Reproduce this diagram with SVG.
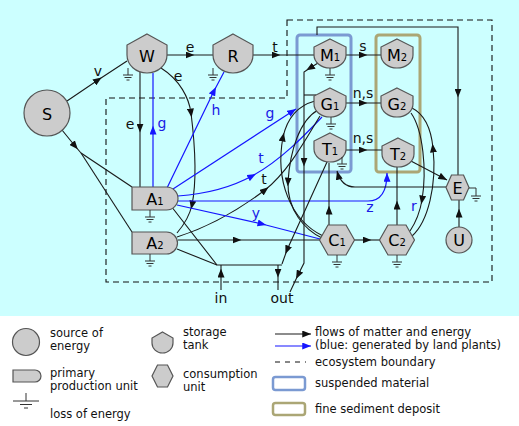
<svg xmlns="http://www.w3.org/2000/svg" width="519" height="426" viewBox="0 0 519 426">
<style>
.bg{fill:#ccffff}
.nd{fill:#cccccc;stroke:#555;stroke-width:1.2}
.ln{fill:none;stroke:#1a1a1a;stroke-width:1.1}
.bl{fill:none;stroke:#1515ff;stroke-width:1.2}
.gd{fill:none;stroke:#333;stroke-width:1}
.nl{font-family:"DejaVu Sans",Verdana,sans-serif;font-size:16px;fill:#000;text-anchor:middle}
.sub{font-size:10px}
.cl{font-family:"DejaVu Sans",Verdana,sans-serif;font-size:14px;fill:#111;text-anchor:middle}
.cb{fill:#1a1ae6}
.lg{font-family:"DejaVu Sans",Verdana,sans-serif;font-size:11.5px;fill:#111}
</style>
<defs>
<marker id="a" viewBox="0 0 10 8" refX="5" refY="4" markerWidth="9" markerHeight="7" orient="auto" markerUnits="userSpaceOnUse"><path d="M0,0 L10,4 L0,8 Z" fill="#111"/></marker>
<marker id="b" viewBox="0 0 10 8" refX="5" refY="4" markerWidth="9" markerHeight="7" orient="auto" markerUnits="userSpaceOnUse"><path d="M0,0 L10,4 L0,8 Z" fill="#1515ff"/></marker>
<marker id="ae" viewBox="0 0 10 8" refX="10" refY="4" markerWidth="9" markerHeight="7" orient="auto" markerUnits="userSpaceOnUse"><path d="M0,0 L10,4 L0,8 Z" fill="#111"/></marker>
<marker id="be" viewBox="0 0 10 8" refX="10" refY="4" markerWidth="9" markerHeight="7" orient="auto" markerUnits="userSpaceOnUse"><path d="M0,0 L10,4 L0,8 Z" fill="#1515ff"/></marker>
<g id="gnd" class="gd"><path d="M0,0 V7 M-5,7 H5 M-3.5,9.5 H3.5 M-1.5,12 H1.5"/></g>
</defs>

<rect class="bg" x="0" y="0" width="519" height="316"/>
<rect x="0" y="316" width="519" height="110" fill="#ffffff"/>

<g id="boundary">
<path d="M287,20 H492 V282 H106 V98 H287 Z" fill="none" stroke="#111" stroke-width="1.1" stroke-dasharray="6,4"/>
</g>

<g id="box-suspended"><rect x="297" y="35" width="54" height="137" rx="3" fill="none" stroke="#7b9ad2" stroke-width="3"/></g>
<g id="box-sediment"><rect x="376" y="35" width="44" height="137" rx="3" fill="none" stroke="#aba675" stroke-width="3"/></g>

<g id="connectors">
<path class="ln" d="M67,101 L98,80 L127,61" marker-mid="url(#a)"/>
<text class="cl" x="98" y="76">v</text>
<path class="ln" d="M62,130 L75,146 L81,153" marker-mid="url(#a)"/>
<path class="ln" d="M81,153 L132,187"/>
<path class="ln" d="M81,153 L132,232"/>
<path class="ln" d="M167,55 L190,55 L213,55" marker-mid="url(#a)"/>
<text class="cl" x="190" y="52">e</text>
<path class="ln" d="M253,55 L276,55 L314,55" marker-mid="url(#a)"/>
<text class="cl" x="275" y="52">t</text>
<path class="ln" d="M346,55 L363,55 L381,55" marker-mid="url(#a)"/>
<text class="cl" x="363" y="51">s</text>
<path class="ln" d="M346,103 L363,103 L381,103" marker-mid="url(#a)"/>
<text class="cl" x="363" y="98">n,s</text>
<path class="ln" d="M346,150 L363,150 L383,150" marker-mid="url(#a)"/>
<text class="cl" x="363" y="143">n,s</text>
<path class="ln" d="M140,72 L140,128 L140,187" marker-mid="url(#a)"/>
<text class="cl" x="130" y="129">e</text>
<path class="bl" d="M153,187 L153,130 L153,73" marker-mid="url(#b)"/>
<text class="cl cb" x="162" y="128">g</text>
<path class="ln" d="M161,68 C180,80 189,98 191,113 C195,145 197,180 192,205 C189,218 183,226 177,233" marker-mid="url(#a)"/>
<text class="cl" x="178" y="81">e</text>
<path class="bl" d="M167,188 L214,91 L224,72" marker-mid="url(#b)"/>
<text class="cl cb" x="216" y="115">h</text>
<path class="bl" d="M173,189 L296,109" marker-end="url(#be)"/>
<text class="cl cb" x="270" y="118">g</text>
<path class="bl" d="M178,196 C205,194 232,187 252,176 C280,161 305,135 322,117" marker-mid="url(#b)"/>
<text class="cl cb" x="261" y="163">t</text>
<path class="ln" d="M177,237 C215,225 245,205 265,190 C290,170 308,135 320,116" marker-mid="url(#a)"/>
<text class="cl" x="264" y="184">t</text>
<path class="bl" d="M178,201 H368 C381,201 387,192 387,173" marker-end="url(#be)"/>
<text class="cl cb" x="370" y="212">z</text>
<path class="bl" d="M177,205 L262,224 L320,239" marker-mid="url(#b)"/>
<text class="cl cb" x="256" y="218">y</text>
<path class="ln" d="M178,240 L237,240 L320,240" marker-mid="url(#a)"/>
<path class="ln" d="M171,206 L217,265 H282"/>
<path class="ln" d="M177,249 L217,265"/>
<path class="ln" d="M327,162 L287,250 L282,264" marker-mid="url(#a)"/>
<path class="ln" d="M221,290 L221,273 L221,265" marker-mid="url(#a)"/>
<text class="cl" x="221" y="303">in</text>
<path class="ln" d="M278,265 L278,273 L278,290" marker-mid="url(#a)"/>
<text class="cl" x="282" y="303">out</text>
<path class="ln" d="M318,63 L310,68" marker-end="url(#a)"/>
<path class="ln" d="M310,68 L304,72 V162" marker-end="url(#a)"/>
<path class="ln" d="M304,162 V263 L298,275" marker-end="url(#a)"/>
<path class="ln" d="M298,275 L290,292"/>
<path class="ln" d="M304,95 H316"/>
<path class="ln" d="M323,236 C290,220 275,180 283,137 C288,115 300,105 315,101" marker-mid="url(#a)"/>
<path class="ln" d="M318,110 C300,120 290,150 288,182 C287,210 305,230 322,238" marker-mid="url(#a)"/>
<path class="ln" d="M329,225 L329,210 L329,163" marker-mid="url(#a)"/>
<path class="ln" d="M354,240 L367,240 L380,240" marker-mid="url(#a)"/>
<path class="ln" d="M397,225 L397,205 L397,167" marker-mid="url(#a)"/>
<path class="ln" d="M412,236 C428,222 437,185 433,148 C431,128 424,114 412,108" marker-mid="url(#a)"/>
<path class="ln" d="M411,113 C423,130 427,170 422,200 C420,212 416,222 410,231" marker-mid="url(#a)"/>
<text class="cl cb" x="414" y="211">r</text>
<path class="ln" d="M409,160 L447,180" marker-end="url(#ae)"/>
<path class="ln" d="M446,187 H355 C346,187 340,182 337,171" marker-end="url(#ae)"/>
<path class="ln" d="M459,227 L459,213 L459,200" marker-mid="url(#a)"/>
<path class="ln" d="M317,35 V27 H458 V93" marker-end="url(#a)"/>
<path class="ln" d="M458,93 V175"/>
</g>

<g id="node-S"><circle class="nd" cx="47" cy="113" r="23"/><text class="nl" x="47" y="120" font-size="19">S</text></g>
<g id="node-W"><path class="nd" d="M147,34 L167,45 L167,55 A20,18 0 0 1 127,55 L127,45 Z"/><text class="nl" x="147" y="62" font-size="18">W</text><use href="#gnd" x="128" y="68"/></g>
<g id="node-R"><path class="nd" d="M233,34 L253,45 L253,55 A20,18 0 0 1 213,55 L213,45 Z"/><text class="nl" x="233" y="62" font-size="18">R</text><use href="#gnd" x="213" y="68"/></g>
<g id="node-M1"><path class="nd" d="M330,39 L346,47 L346,55 A16,13 0 0 1 314,55 L314,47 Z"/><text class="nl" x="330" y="61">M<tspan class="sub">1</tspan></text><use href="#gnd" x="330" y="68"/></g>
<g id="node-M2"><path class="nd" d="M397,39 L413,47 L413,55 A16,13 0 0 1 381,55 L381,47 Z"/><text class="nl" x="397" y="61">M<tspan class="sub">2</tspan></text></g>
<g id="node-G1"><path class="nd" d="M330,88 L346,96 L346,104 A16,13 0 0 1 314,104 L314,96 Z"/><text class="nl" x="330" y="110">G<tspan class="sub">1</tspan></text><use href="#gnd" x="331" y="117"/></g>
<g id="node-G2"><path class="nd" d="M397,88 L413,96 L413,104 A16,13 0 0 1 381,104 L381,96 Z"/><text class="nl" x="397" y="110">G<tspan class="sub">2</tspan></text></g>
<g id="node-T1"><path class="nd" d="M330,133 L346,141 L346,149 A16,13 0 0 1 314,149 L314,141 Z"/><text class="nl" x="330" y="155">T<tspan class="sub">1</tspan></text><use href="#gnd" x="342" y="157"/></g>
<g id="node-T2"><path class="nd" d="M398,138 L414,146 L414,154 A16,13 0 0 1 382,154 L382,146 Z"/><text class="nl" x="398" y="160">T<tspan class="sub">2</tspan></text></g>
<g id="node-A1"><path class="nd" d="M132,187 H166.5 A11.5,11.5 0 0 1 166.5,210 H132 Z"/><text class="nl" x="155" y="205" font-size="17">A<tspan class="sub">1</tspan></text><use href="#gnd" x="150" y="210"/></g>
<g id="node-A2"><path class="nd" d="M132,232 H166.5 A11,11 0 0 1 166.5,254 H132 Z"/><text class="nl" x="155" y="249" font-size="17">A<tspan class="sub">2</tspan></text><use href="#gnd" x="150" y="254"/></g>
<g id="node-C1"><polygon class="nd" points="319.5,240 328,225 346,225 354.5,240 346,255 328,255"/><text class="nl" x="337" y="246">C<tspan class="sub">1</tspan></text><use href="#gnd" x="337" y="255"/></g>
<g id="node-C2"><polygon class="nd" points="379.5,240 388,225 406,225 414.5,240 406,255 388,255"/><text class="nl" x="397" y="246">C<tspan class="sub">2</tspan></text><use href="#gnd" x="397" y="255"/></g>
<g id="node-E"><polygon class="nd" points="446,187.5 451.5,175 463.5,175 469,187.5 463.5,200 451.5,200"/><text class="nl" x="457.5" y="193.5">E</text><path class="gd" d="M469,188 H476 V196 M471,196 H481 M472.5,198.5 H479.5 M474.5,201 H477.5"/></g>
<g id="node-U"><circle class="nd" cx="459" cy="240" r="13"/><text class="nl" x="459" y="246">U</text></g>

<g id="legend">
<circle class="nd" cx="26" cy="342" r="13.5"/>
<text class="lg" x="50" y="337">source of</text>
<text class="lg" x="50" y="350">energy</text>
<path class="nd" d="M13,370 H35 A6,6 0 0 1 35,382 H13 Z"/>
<text class="lg" x="50" y="377">primary</text>
<text class="lg" x="50" y="390">production unit</text>
<path class="gd" d="M26,393 V401 M13,401 H39 M20,404.5 H32 M24,408 H28"/>
<text class="lg" x="50" y="418">loss of energy</text>
<path class="nd" d="M162.5,332 L173,338 L173,343 A10.5,10 0 0 1 152,343 L152,338 Z"/>
<text class="lg" x="183" y="336">storage</text>
<text class="lg" x="183" y="349">tank</text>
<polygon class="nd" points="152,376 157.5,365 167.5,365 173,376 167.5,387 157.5,387"/>
<text class="lg" x="183" y="378">consumption</text>
<text class="lg" x="183" y="391">unit</text>
<path class="ln" d="M275,334 H311" marker-end="url(#ae)"/>
<path class="bl" d="M275,346 H311" marker-end="url(#be)"/>
<text class="lg" x="315" y="336">flows of matter and energy</text>
<text class="lg" x="315" y="349">(blue: generated by land plants)</text>
<path d="M275,362 H306" fill="none" stroke="#111" stroke-width="1.1" stroke-dasharray="5,5"/>
<text class="lg" x="315" y="366">ecosystem boundary</text>
<rect x="273" y="377" width="32" height="13" rx="2.5" fill="none" stroke="#7b9ad2" stroke-width="2.5"/>
<text class="lg" x="315" y="387">suspended material</text>
<rect x="273" y="403" width="32" height="12" rx="2.5" fill="none" stroke="#aba675" stroke-width="2.5"/>
<text class="lg" x="315" y="413">fine sediment deposit</text>
</g>
</svg>
